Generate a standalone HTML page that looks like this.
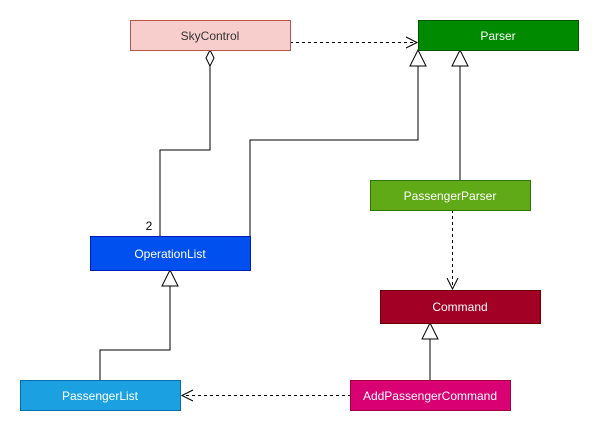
<!DOCTYPE html>
<html><head><meta charset="utf-8"><style>
body{margin:0;background:#fff;width:599px;height:432px;overflow:hidden}
svg text{font-family:"Liberation Sans",sans-serif;font-size:12px;text-anchor:middle}
</style></head><body>
<svg width="599" height="432" viewBox="0 0 599 432">
<g fill="none" stroke="#000" stroke-width="1">
<path d="M290 42.5H416" stroke-dasharray="3 3"/>
<path d="M406 37L417 42.5L406 48"/>
<path d="M210 50L214 58L210 66L206 58Z" fill="#fff"/>
<path d="M210 66V150H160V236"/>
<path d="M250 236V140H418V66"/>
<path d="M418 50L426 66H410Z" fill="#fff"/>
<path d="M460 180V66"/>
<path d="M460 50L468 66H452Z" fill="#fff"/>
<path d="M452.5 210V288" stroke-dasharray="3 3"/>
<path d="M447 278L452.5 289L458 278"/>
<path d="M430 380V339"/>
<path d="M430 323L438 339H422Z" fill="#fff"/>
<path d="M100 380V350H170V286"/>
<path d="M170 270L178 286H162Z" fill="#fff"/>
<path d="M351 395.5H182" stroke-dasharray="3 3"/>
<path d="M193 390L182 395.5L193 401"/>
</g>
<rect x="130.5" y="20.5" width="160" height="30" fill="#f8cecc" stroke="#b85450"/>
<text x="210" y="40" fill="#333">SkyControl</text>
<rect x="418.5" y="20.5" width="160" height="30" fill="#008a00" stroke="#005700"/>
<text x="498" y="40" fill="#fff">Parser</text>
<rect x="370.5" y="180.5" width="160" height="30" fill="#60a917" stroke="#2d7600"/>
<text x="450" y="200" fill="#fff">PassengerParser</text>
<rect x="90.5" y="236.5" width="160" height="34" fill="#0050ef" stroke="#001dbc"/>
<text x="170" y="258" fill="#fff">OperationList</text>
<text x="149" y="230" fill="#000">2</text>
<rect x="380.5" y="290.5" width="160" height="33" fill="#a20025" stroke="#6f0000"/>
<text x="460" y="311" fill="#fff">Command</text>
<rect x="20.5" y="380.5" width="160" height="30" fill="#1ba1e2" stroke="#006eaf"/>
<text x="100" y="400" fill="#fff">PassengerList</text>
<rect x="350.5" y="380.5" width="160" height="30" fill="#d80073" stroke="#a50040"/>
<text x="430" y="400" fill="#fff">AddPassengerCommand</text>
</svg>
</body></html>
